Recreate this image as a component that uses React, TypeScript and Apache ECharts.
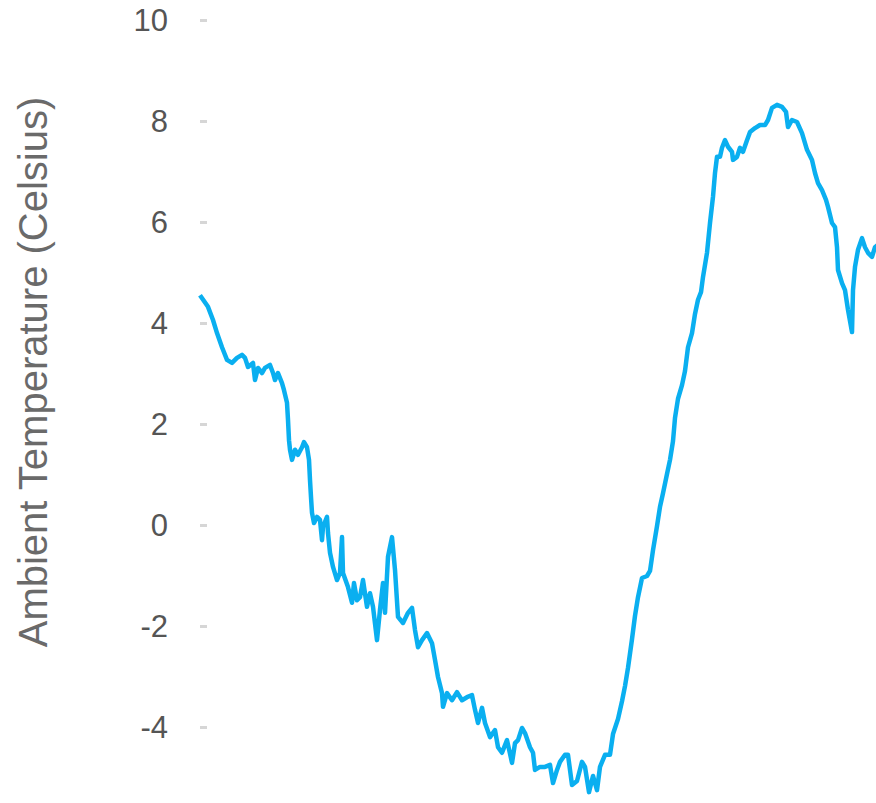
import React, { useEffect, useRef } from "react";
import * as echarts from "echarts";

// Elapsed time (minutes) and ambient temperature (°C)
const timeMinutes = [
  0,16,26,34,44,54,64,74,84,90,96,106,110,116,124,130,140,146,150,156,164,168,174,176,178,180,184,190,196,204,208,214,218,220,222,224,228,234,240,244,246,254,256,260,266,274,280,284,286,296,304,308,314,320,326,334,340,346,354,360,366,370,376,384,390,396,406,416,424,430,436,444,454,464,470,476,484,486,494,504,514,524,534,544,550,556,564,570,580,590,596,604,614,624,630,636,644,650,660,666,670,680,690,700,706,714,720,730,736,744,754,764,770,778,786,794,800,810,820,826,836,844,850,856,864,870,876,884,894,900,906,914,920,926,934,940,946,950,956,964,970,976,984,990,996,1002,1006,1014,1020,1026,1030,1034,1040,1044,1050,1056,1064,1066,1074,1080,1086,1094,1100,1110,1120,1130,1136,1144,1154,1164,1172,1176,1184,1194,1204,1214,1224,1230,1236,1244,1252,1256,1264,1270,1274,1276,1284,1290,1296,1304,1306,1310,1316,1324,1330,1336,1344,1350,1356,
];

const temperatureC = [
  4.55,4.32,4.06,3.80,3.52,3.27,3.21,3.31,3.37,3.31,3.13,3.21,2.87,3.11,3.01,3.11,3.17,3.01,2.87,3.01,2.81,2.67,2.42,2.08,1.68,1.49,1.29,1.49,1.39,1.54,1.64,1.54,1.29,0.89,0.55,0.24,0.04,0.16,0.10,-0.30,-0.04,0.16,-0.16,-0.55,-0.83,-1.09,-0.95,-0.24,-0.95,-1.23,-1.54,-1.15,-1.49,-1.43,-1.09,-1.62,-1.35,-1.62,-2.28,-1.68,-1.15,-1.74,-0.63,-0.24,-0.89,-1.82,-1.94,-1.74,-1.64,-2.08,-2.42,-2.28,-2.14,-2.34,-2.67,-3.01,-3.33,-3.60,-3.33,-3.47,-3.31,-3.47,-3.41,-3.37,-3.66,-3.92,-3.62,-3.92,-4.20,-4.06,-4.40,-4.51,-4.26,-4.71,-4.32,-4.26,-4.02,-4.12,-4.40,-4.51,-4.85,-4.79,-4.79,-4.75,-5.11,-4.85,-4.69,-4.55,-4.55,-5.15,-5.07,-4.69,-4.79,-5.29,-4.97,-5.25,-4.79,-4.55,-4.55,-4.14,-3.84,-3.49,-3.19,-2.83,-2.26,-1.80,-1.43,-1.05,-1.01,-0.91,-0.50,-0.02,0.36,0.63,1.01,1.29,1.66,2.12,2.50,2.77,3.05,3.52,3.80,4.18,4.46,4.61,4.91,5.39,5.98,6.50,6.97,7.29,7.29,7.47,7.62,7.49,7.39,7.23,7.29,7.47,7.39,7.62,7.78,7.86,7.92,7.92,8.02,8.26,8.32,8.28,8.18,7.88,8.02,7.98,7.76,7.43,7.23,6.97,6.77,6.63,6.44,6.30,5.98,5.90,5.50,5.05,4.79,4.65,4.26,3.82,4.65,5.11,5.45,5.68,5.50,5.39,5.31,5.50,5.55,
];

const yTicks = { min: -6, max: 10, interval: 2 };
const xRange = { min: 0, max: 1352 };
const yTitle = "Ambient Temperature (Celsius)";

export default function App() {
  const ref = useRef<HTMLDivElement>(null);

  useEffect(() => {
    if (!ref.current) return;
    const chart = echarts.init(ref.current, null, { renderer: "svg" });
    const n = Math.min(timeMinutes.length, temperatureC.length);
    const data: [number, number][] = [];
    for (let i = 0; i < n; i++) data.push([timeMinutes[i], temperatureC[i]]);
    const font = "'Liberation Sans', Arial, sans-serif";

    chart.setOption({
      animation: false,
      backgroundColor: "#ffffff",
      grid: {
        left: 200,
        right: 0,
        top: 20,
        bottom: -25,
        containLabel: false,
        outerBoundsMode: "none",
      },
      xAxis: {
        type: "value",
        min: xRange.min,
        max: xRange.max,
        show: false,
      },
      yAxis: {
        type: "value",
        min: yTicks.min,
        max: yTicks.max,
        interval: yTicks.interval,
        axisLine: { show: false },
        axisTick: {
          show: true,
          inside: true,
          length: 7,
          lineStyle: { color: "#d6d6d6", width: 3 },
        },
        splitLine: { show: false },
        axisLabel: {
          color: "#555555",
          fontSize: 31,
          fontFamily: font,
          margin: 32,
          showMinLabel: false,
        },
      },
      graphic: [
        {
          type: "text",
          x: 33,
          y: 372,
          rotation: Math.PI / 2,
          style: {
            text: yTitle,
            fontSize: 40,
            fontFamily: font,
            fill: "#6a6a6a",
            align: "center",
            verticalAlign: "middle",
          },
        },
      ],
      series: [
        {
          type: "line",
          data,
          showSymbol: false,
          symbol: "none",
          lineStyle: { color: "#0aaff0", width: 4.5, join: "round" },
          clip: true,
        },
      ],
    });

    return () => chart.dispose();
  }, []);

  return (
    <div
      ref={ref}
      style={{ position: "absolute", left: 0, top: 0, width: 876, height: 803, background: "#fff" }}
    />
  );
}
